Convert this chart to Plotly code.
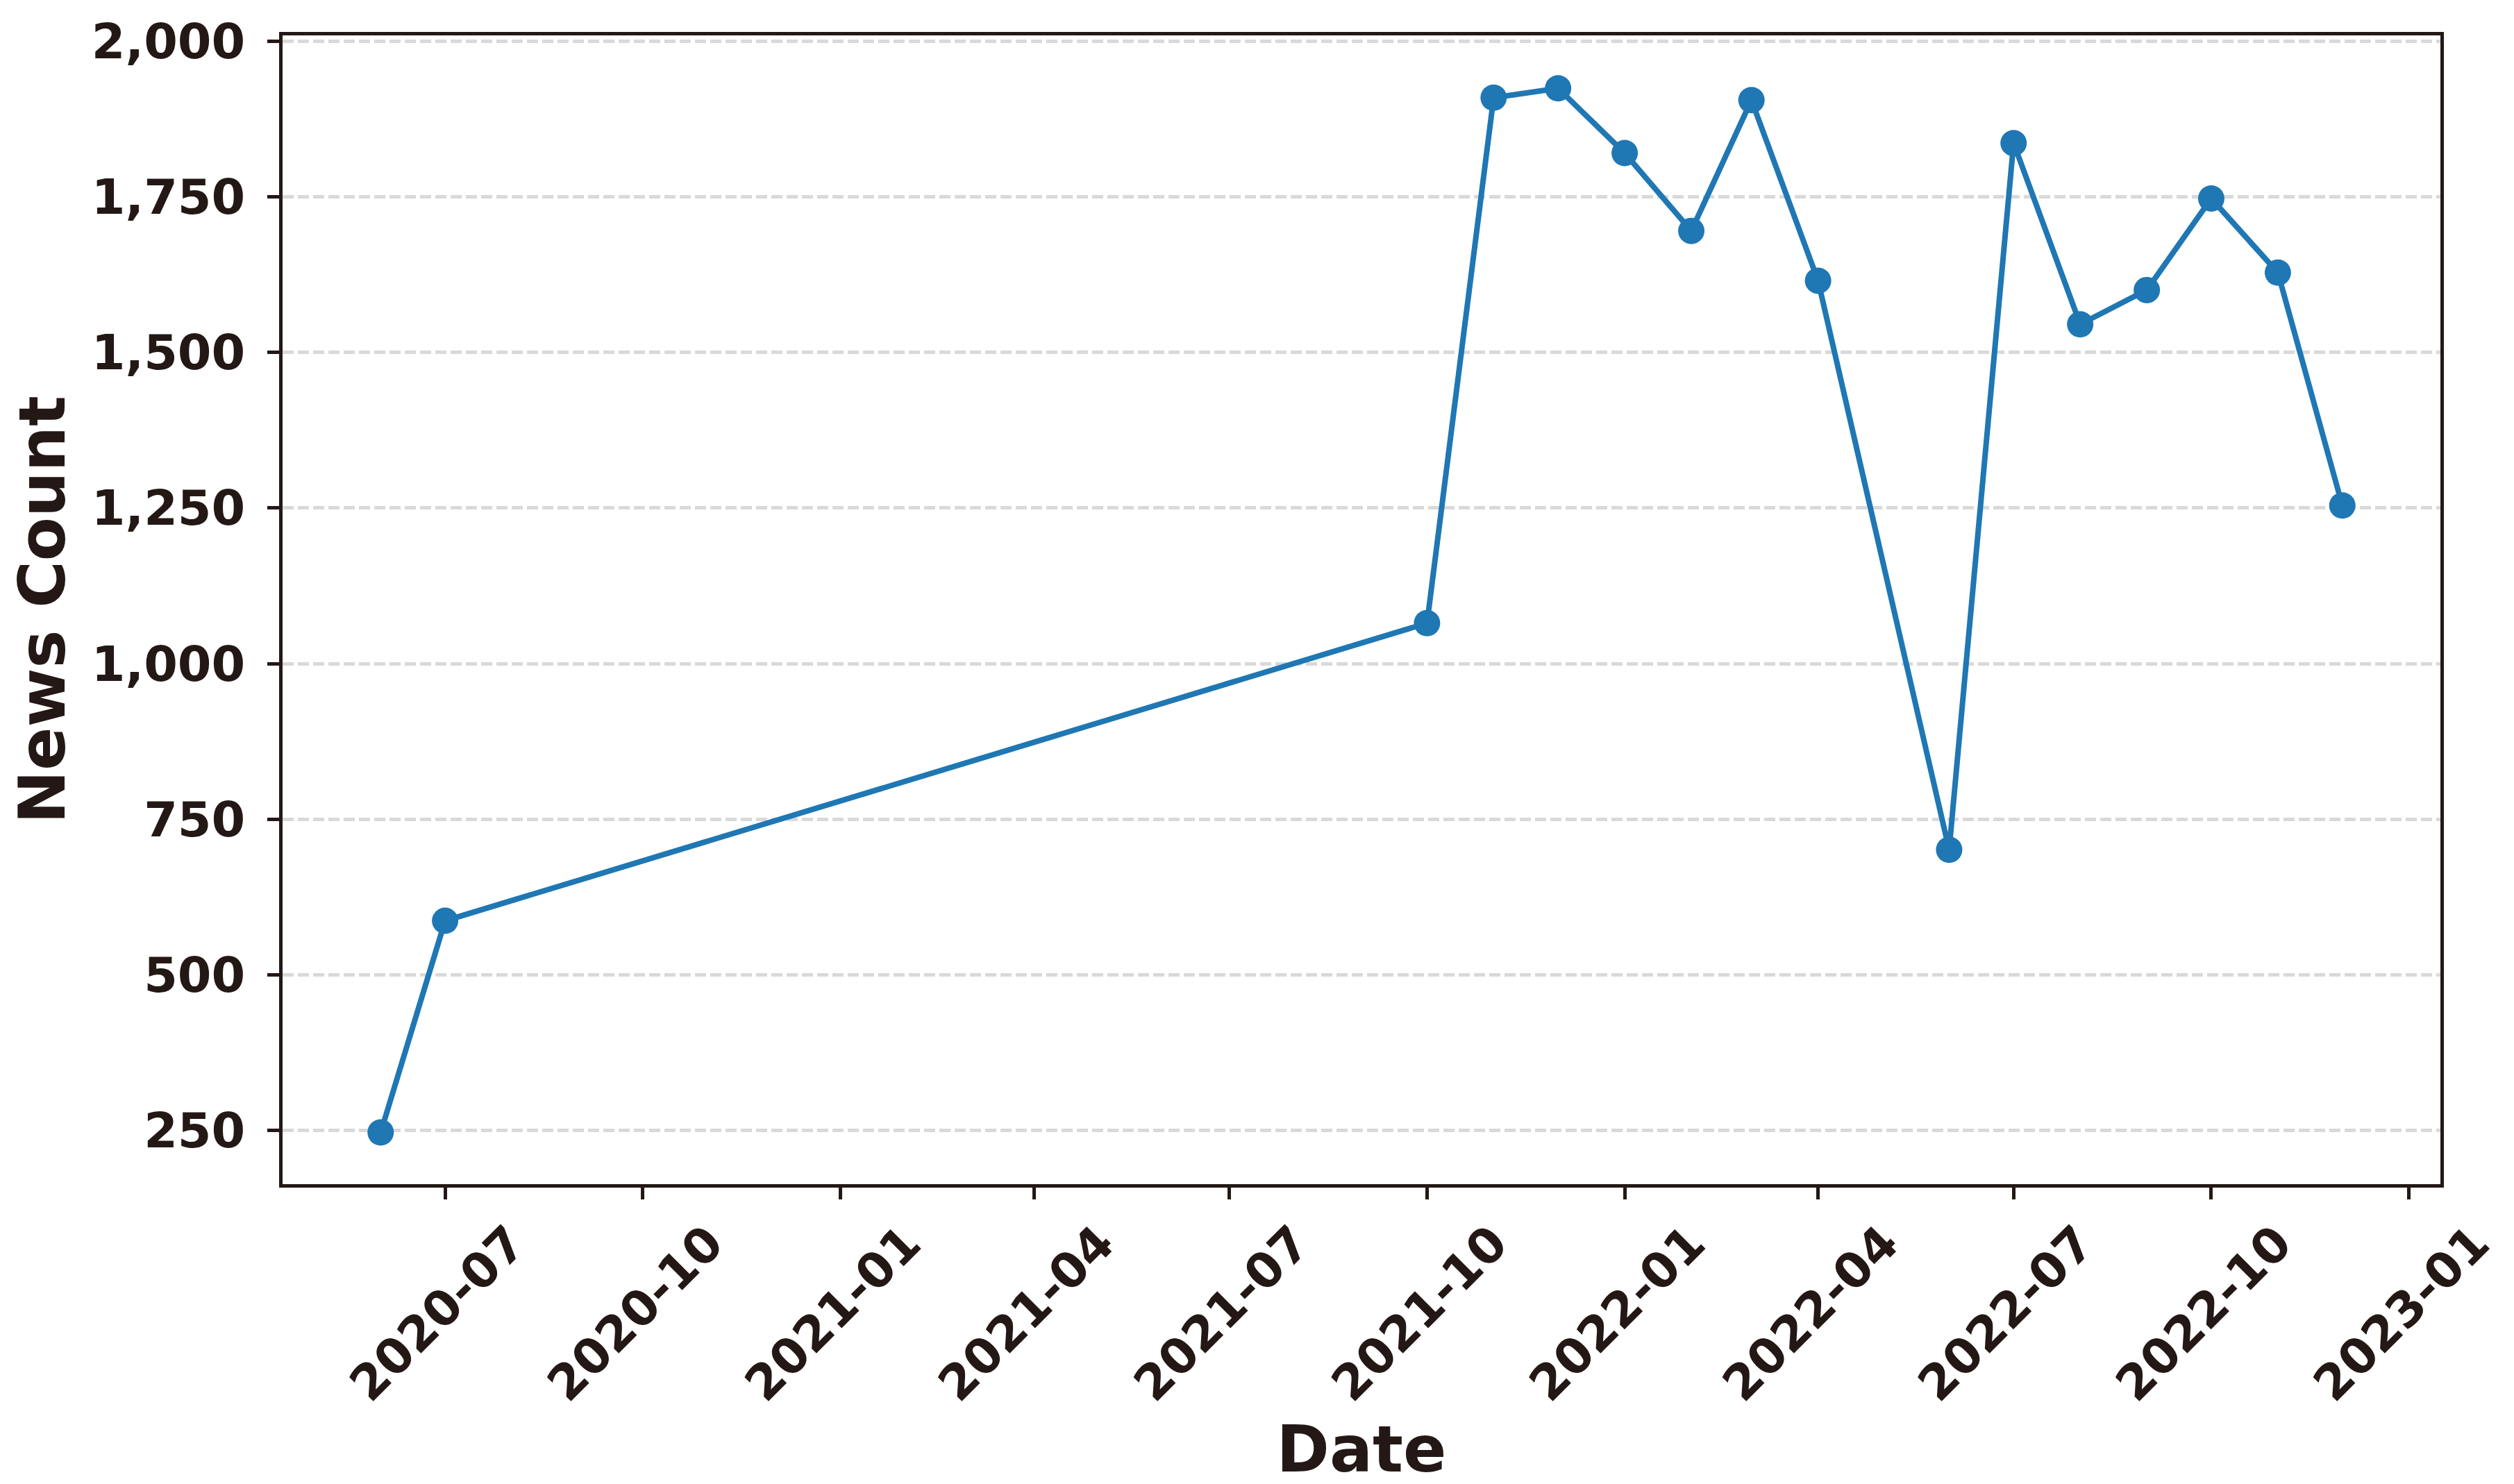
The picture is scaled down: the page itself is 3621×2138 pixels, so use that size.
import plotly.graph_objects as go

# monthly news counts
dates = ['2020-06-01', '2020-07-01', '2021-10-01', '2021-11-01', '2021-12-01',
         '2022-01-01', '2022-02-01', '2022-03-01', '2022-04-01', '2022-06-01',
         '2022-07-01', '2022-08-01', '2022-09-01', '2022-10-01', '2022-11-01',
         '2022-12-01']
news_count = [247, 587, 1065, 1909, 1924, 1820, 1695, 1905, 1615, 701,
              1836, 1545, 1600, 1747, 1628, 1254]

y_ticks = [250, 500, 750, 1000, 1250, 1500, 1750, 2000]

ink = '#231815'
font_bold = dict(family='DejaVu Sans', weight='bold', color=ink)

fig = go.Figure()
fig.add_trace(go.Scatter(
    x=dates, y=news_count, mode='lines+markers',
    line=dict(color='#1f77b4', width=8),
    marker=dict(color='#1f77b4', size=38),
    showlegend=False,
))

fig.update_layout(
    width=3621, height=2138, autosize=False,
    margin=dict(l=399, r=114, t=43, b=440),
    paper_bgcolor='white', plot_bgcolor='white',
    font=dict(**font_bold, size=70),
)

fig.update_xaxes(
    range=['2020-04-16 08:24', '2023-01-15 15:36'],
    tick0='2020-01-01', dtick='M3', tickformat='%Y-%m',
    tickangle=-45, ticklabelshift=95, ticklabelstandoff=-6,
    ticks='outside', ticklen=17, tickwidth=4.5, tickcolor=ink,
    showline=True, linewidth=4.5, linecolor=ink, mirror=True,
    showgrid=False, zeroline=False,
    tickfont=dict(**font_bold, size=70),
    title=dict(text='Date', font=dict(**font_bold, size=92), standoff=10),
)

fig.update_yaxes(
    range=[164, 2009], tickvals=y_ticks, tickformat=',d',
    ticks='outside', ticklen=17, tickwidth=4.5, tickcolor=ink,
    ticklabelstandoff=18,
    showline=True, linewidth=4.5, linecolor=ink, mirror=True,
    showgrid=True, gridcolor='#d9d9d9', gridwidth=5, griddash='16px,6px',
    zeroline=False,
    tickfont=dict(**font_bold, size=70),
    title=dict(text='News Count', font=dict(**font_bold, size=92), standoff=36),
)

fig.write_html('out.html')
